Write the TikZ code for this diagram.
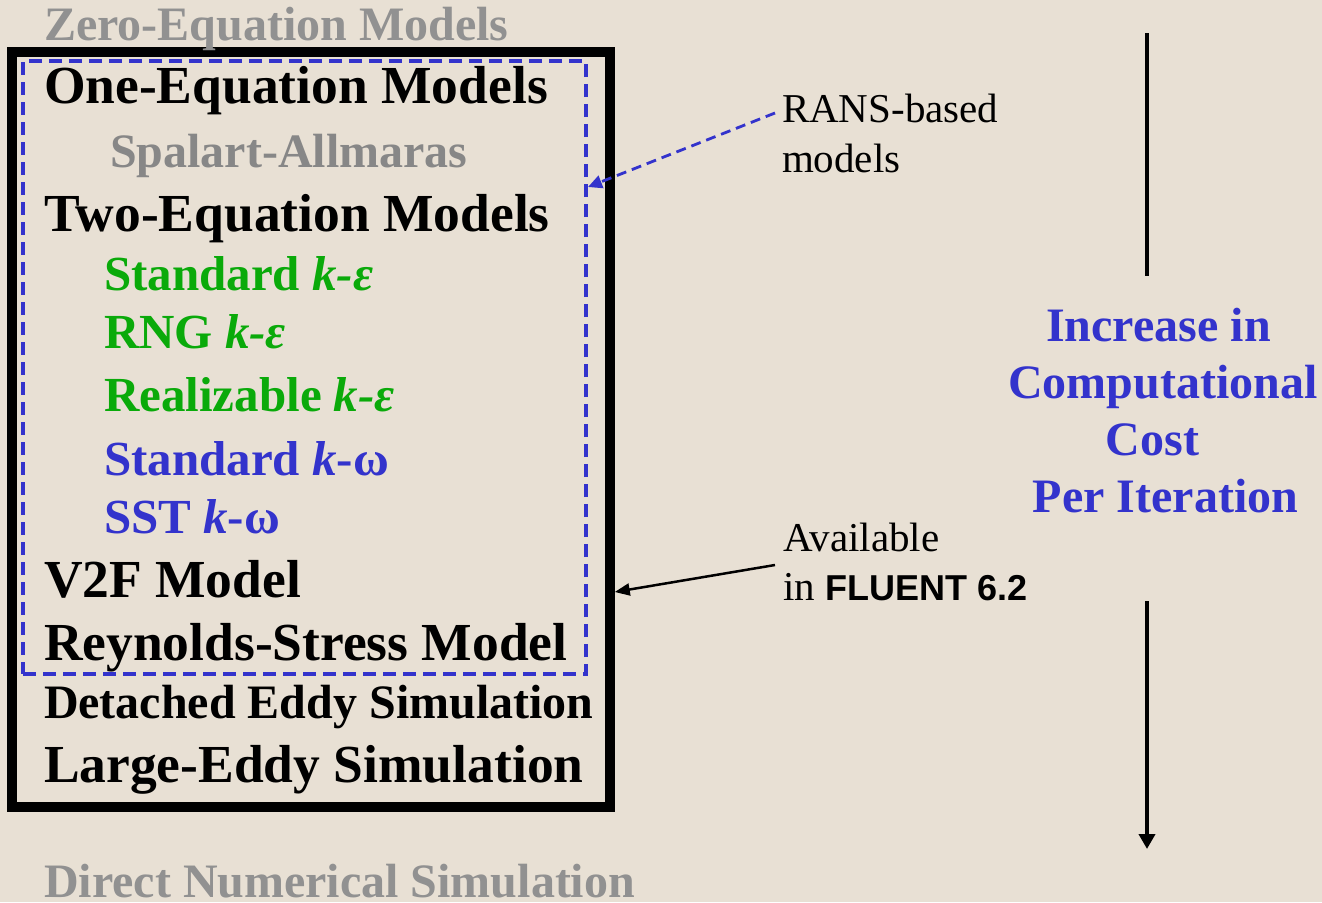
\documentclass[tikz,border=0pt]{standalone}
\usepackage{fontspec}
\setmainfont{Liberation Serif}
\newfontfamily\arialfont{Liberation Sans}
\usetikzlibrary{arrows.meta}
\definecolor{bg}{RGB}{232,224,212}
\definecolor{greytxt}{RGB}{145,145,145}
\definecolor{greydark}{RGB}{135,135,135}
\definecolor{grn}{RGB}{10,170,10}
\definecolor{blu}{RGB}{51,51,204}
\begin{document}
\begin{tikzpicture}[x=1pt,y=-1pt,
  txt/.style={anchor=base west,inner sep=0pt,outer sep=0pt},
  big/.style={txt,font=\fontsize{53.5}{60}\selectfont\bfseries},
  mid/.style={txt,font=\fontsize{48}{54}\selectfont\bfseries},
  sub/.style={txt,font=\fontsize{49}{54}\selectfont\bfseries},
  note/.style={txt,font=\fontsize{41}{48}\selectfont},
  costtxt/.style={anchor=base,inner sep=0pt,text=blu,font=\fontsize{48}{54}\selectfont\bfseries},
  outerbox/.style={draw=black,line width=9.5pt,minimum width=598pt,minimum height=755pt,inner sep=0pt},
  ransbox/.style={draw=blu,line width=4pt,dash pattern=on 13pt off 7pt,minimum width=563pt,minimum height=613pt,inner sep=0pt},
  costline/.style={line width=4.5pt,draw=black},
]
\useasboundingbox (0,0) rectangle (1322,902);
\fill[bg] (0,0) rectangle (1322,902);

% boxes
\node[outerbox] (box) at (311,429.5) {};
\node[ransbox] (rans) at (304.5,367.5) {};

% left column texts
\node[mid,text=greytxt] (zero) at (44,40) {Zero-Equation Models};
\node[big] (one) at (44,103) {One-Equation Models};
\node[mid,text=greydark] (sa) at (110,167) {Spalart-Allmaras};
\node[big] (two) at (44,231) {Two-Equation Models};
\node[sub,text=grn] (ske) at (104,290) {Standard \textit{k-ε}};
\node[sub,text=grn] (rng) at (104,348) {RNG \textit{k-ε}};
\node[sub,text=grn] (rke) at (104,411) {Realizable \textit{k-ε}};
\node[sub,text=blu] (skw) at (104,475) {Standard \textit{k}-ω};
\node[sub,text=blu] (sst) at (104,533) {SST \textit{k}-ω};
\node[big] (v2f) at (44,597) {V2F Model};
\node[big] (rsm) at (44,660) {Reynolds-Stress Model};
\node[mid] (des) at (44,718) {Detached Eddy Simulation};
\node[big] (les) at (44,782) {Large-Eddy Simulation};
\node[mid,text=greytxt] (dns) at (44,897) {Direct Numerical Simulation};

% annotations
\node[note] (ransA) at (782,122) {RANS-based};
\node[note] (ransB) at (782,172) {models};
\node[note] (availA) at (783,551) {Available};
\node[note] (availB) at (783,600) {in {\arialfont\bfseries\fontsize{36}{42}\selectfont FLUENT 6.2}};

\coordinate (ranstail) at (775,113);
\coordinate (ranshead) at (0,187);
\draw[blu,line width=2.8pt,dash pattern=on 10pt off 6pt,-{Triangle[length=14pt,width=13pt]}]
  (ranstail) -- (rans.east |- ranshead);

\coordinate (availtail) at (775,565);
\coordinate (availhead) at (0,592);
\draw[black,line width=2.5pt,-{Triangle[length=15pt,width=12pt]}]
  (availtail) -- (box.east |- availhead);

% cost axis
\node[costtxt] (c1) at (1158.5,341) {Increase in};
\node[costtxt] (c2) at (1163,398) {Computational};
\node[costtxt] (c3) at (1152.5,455) {Cost};
\node[costtxt] (c4) at (1165.5,512) {Per Iteration};

\coordinate (axtop) at (1147,33);
\coordinate (axmid) at (1147,276);
\coordinate (axstart) at (1147,601);
\coordinate (axend) at (1147,849);
\draw[costline] (axtop) -- (axmid);
\draw[costline,-{Triangle[length=15pt,width=16pt]}] (axstart) -- (axend);
\end{tikzpicture}
\end{document}
